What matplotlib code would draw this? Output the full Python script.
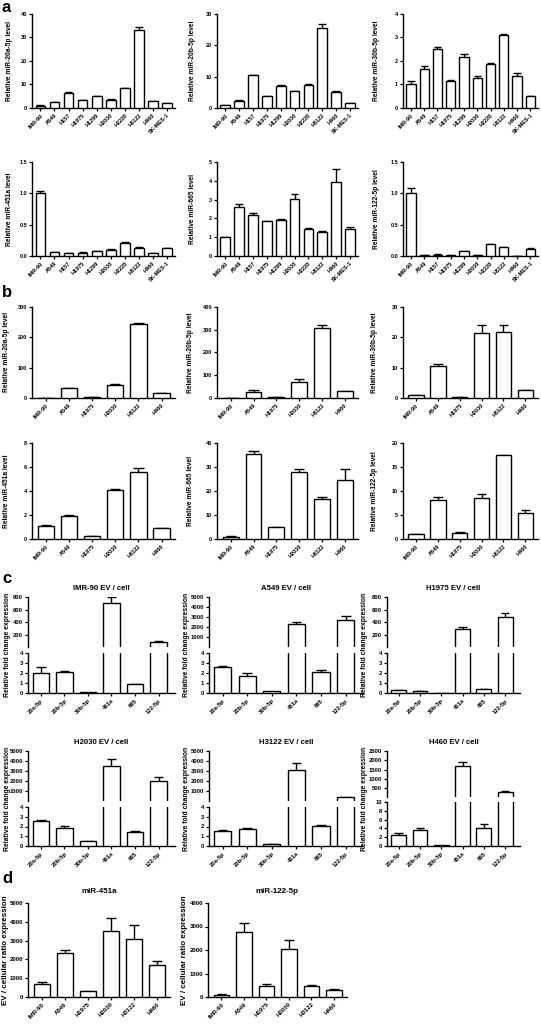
import matplotlib
matplotlib.use('Agg')
import matplotlib.pyplot as plt
import numpy as np

plt.rcParams['font.family'] = ['Liberation Sans', 'DejaVu Sans']
plt.rcParams['font.weight'] = 'bold'

# ---------------- data ----------------
cells_a = ['IMR-90', 'A549', 'H157', 'H1975', 'H1299', 'H2030', 'H2228', 'H3122', 'H460', 'SK-MES-1']
a_mir20a = [1.0, 2.4, 6.5, 3.25, 4.95, 3.5, 8.5, 33.0, 3.0, 2.1]
a_mir20a_err = [0.15, 0.15, 0.15, 0.15, 0.15, 0.15, 0.15, 1.3, 0.15, 0.1]
a_mir20b = [1.0, 2.3, 10.4, 3.7, 7.0, 5.3, 7.4, 25.5, 5.2, 1.5]
a_mir20b_err = [0.1, 0.15, 0.2, 0.15, 0.2, 0.15, 0.2, 1.3, 0.15, 0.1]
a_mir30b = [1.0, 1.66, 2.51, 1.14, 2.16, 1.26, 1.86, 3.11, 1.36, 0.5]
a_mir30b_err = [0.13, 0.12, 0.07, 0.07, 0.12, 0.1, 0.07, 0.05, 0.15, 0.02]
a_mir451a = [1.0, 0.065, 0.05, 0.055, 0.08, 0.1, 0.21, 0.135, 0.05, 0.12]
a_mir451a_err = [0.03, 0.004, 0.004, 0.004, 0.005, 0.008, 0.01, 0.015, 0.003, 0.006]
a_mir665 = [1.0, 2.6, 2.2, 1.85, 1.9, 3.05, 1.46, 1.29, 3.95, 1.46]
a_mir665_err = [0.02, 0.17, 0.1, 0.03, 0.05, 0.25, 0.05, 0.04, 0.7, 0.06]
a_mir122 = [1.0, 0.012, 0.02, 0.01, 0.078, 0.012, 0.185, 0.14, 0.005, 0.115]
a_mir122_err = [0.08, 0.003, 0.004, 0.002, 0.004, 0.003, 0.008, 0.005, 0.002, 0.008]

cells_b = ['IMR-90', 'A549', 'H1975', 'H2030', 'H3122', 'H460']
b_mir20a = [1.0, 33.0, 3.5, 44.0, 243.0, 15.5]
b_mir20a_err = [0.1, 1.0, 0.3, 1.5, 3.0, 1.0]
b_mir20b = [1.0, 27.0, 3.0, 70.0, 309.0, 30.0]
b_mir20b_err = [0.1, 7.0, 0.5, 14.0, 12.0, 1.5]
b_mir30b = [1.0, 10.4, 0.3, 21.5, 21.9, 2.6]
b_mir30b_err = [0.05, 0.7, 0.05, 2.5, 2.3, 0.1]
b_mir451a = [1.05, 1.94, 0.27, 4.12, 5.6, 0.88]
b_mir451a_err = [0.12, 0.1, 0.02, 0.03, 0.32, 0.03]
b_mir665 = [1.0, 35.3, 4.9, 27.9, 16.7, 24.7]
b_mir665_err = [0.1, 1.2, 0.3, 1.3, 0.8, 4.5]
b_mir122 = [1.0, 8.1, 1.35, 8.6, 17.4, 5.5]
b_mir122_err = [0.05, 0.6, 0.1, 0.7, 0.2, 0.6]

mirs_c = ['20a-5p', '20b-5p', '30b-5p', '451a', '665', '122-5p']
c_imr90 = [2.0, 2.1, 0.08, 700, 0.92, 85]
c_imr90_err = [0.65, 0.12, 0.0, 95, 0.03, 25]
c_a549 = [2.62, 1.75, 0.17, 2350, 2.1, 2760]
c_a549_err = [0.1, 0.27, 0.0, 170, 0.22, 380]
c_h1975 = [0.27, 0.23, 0.01, 300, 0.42, 480]
c_h1975_err = [0.02, 0.02, 0.0, 20, 0.02, 70]
c_h2030 = [2.58, 1.83, 0.47, 3500, 1.47, 2060]
c_h2030_err = [0.05, 0.2, 0.01, 690, 0.06, 360]
c_h3122 = [1.53, 1.7, 0.2, 3090, 2.03, 480]
c_h3122_err = [0.06, 0.15, 0.02, 730, 0.15, 15]
c_h460 = [2.6, 3.7, 0.15, 1720, 4.1, 300]
c_h460_err = [0.3, 0.35, 0.0, 180, 0.8, 60]

d_mir451a = [700, 2350, 300, 3500, 3090, 1720]
d_mir451a_err = [95, 170, 20, 690, 730, 180]
d_mir122 = [85, 2760, 480, 2060, 480, 300]
d_mir122_err = [25, 380, 70, 360, 15, 60]

# ---------------- helpers ----------------
W, H = 541, 1026
fig = plt.figure(figsize=(W / 100, H / 100), dpi=100)


def add_ax(x0, x1, yt, yb):
    return fig.add_axes([x0 / W, 1 - yb / H, (x1 - x0) / W, (yb - yt) / H])


def style(ax, ls=4.0, bottom=True):
    ax.spines['top'].set_visible(False)
    ax.spines['right'].set_visible(False)
    ax.spines['left'].set_linewidth(1.0)
    ax.spines['bottom'].set_linewidth(1.0)
    if not bottom:
        ax.spines['bottom'].set_visible(False)
        ax.tick_params(axis='x', bottom=False, labelbottom=False)
    ax.tick_params(axis='both', direction='out', length=2.5, width=0.9,
                   labelsize=ls, pad=1)


def bars(ax, vals, errs, width=0.7, cap=0.22):
    x = np.arange(len(vals))
    ax.bar(x, vals, width=width, color='white', edgecolor='black',
           linewidth=1.0, zorder=3)
    for xi, v, e in zip(x, vals, errs):
        if e <= 0 or not np.isfinite(v):
            continue
        ax.plot([xi, xi], [v, v + e], color='black', lw=1.0, zorder=2,
                solid_capstyle='butt')
        ax.plot([xi - cap, xi + cap], [v + e, v + e], color='black', lw=1.0,
                zorder=2, solid_capstyle='butt')


def xlabels(ax, labels, size=4.0):
    ax.set_xticks(np.arange(len(labels)))
    ax.set_xticklabels(labels, rotation=45, ha='right',
                       rotation_mode='anchor', fontsize=size)


def ylab(xpx, yt, yb, text, size=4.8):
    fig.text(xpx / W, 1 - (yt + yb) / 2 / H, text, rotation=90,
             ha='center', va='center', fontsize=size, fontweight='bold')


def simple(x0, x1, yt, yb, cats, vals, errs, ymax, ticks, ylabel, lx,
           fmt=None, ls=4.0, ylsize=4.8, cap=0.22):
    ax = add_ax(x0, x1, yt, yb)
    bars(ax, vals, errs, cap=cap)
    n = len(cats)
    ax.set_xlim(-0.6, n - 0.42)
    ax.set_ylim(0, ymax)
    ax.set_yticks(ticks)
    if fmt:
        ax.set_yticklabels([fmt.format(t) for t in ticks])
    style(ax, ls=ls)
    xlabels(ax, cats, size=ls)
    ylab(lx, yt, yb, ylabel, size=ylsize)
    return ax


# ---------------- panel a ----------------
cols_ab = [(32, 175), (217, 358), (403, 538)]
lx_ab = [10, 193, 377]
r1 = (14, 108)
r2 = (162, 256)
simple(*cols_ab[0], *r1, cells_a, a_mir20a, a_mir20a_err, 40, [0, 10, 20, 30, 40],
       'Relative miR-20a-5p level', lx_ab[0], cap=0.28)
simple(*cols_ab[1], *r1, cells_a, a_mir20b, a_mir20b_err, 30, [0, 10, 20, 30],
       'Relative miR-20b-5p level', lx_ab[1], cap=0.28)
simple(*cols_ab[2], *r1, cells_a, a_mir30b, a_mir30b_err, 4, [0, 1, 2, 3, 4],
       'Relative miR-30b-5p level', lx_ab[2], cap=0.28)
simple(*cols_ab[0], *r2, cells_a, a_mir451a, a_mir451a_err, 1.5, [0, 0.5, 1.0, 1.5],
       'Relative miR-451a level', lx_ab[0], fmt='{:.1f}', cap=0.28)
simple(*cols_ab[1], *r2, cells_a, a_mir665, a_mir665_err, 5, [0, 1, 2, 3, 4, 5],
       'Relative miR-665 level', lx_ab[1], cap=0.28)
simple(*cols_ab[2], *r2, cells_a, a_mir122, a_mir122_err, 1.5, [0, 0.5, 1.0, 1.5],
       'Relative miR-122-5p level', lx_ab[2], fmt='{:.1f}', cap=0.28)

# ---------------- panel b ----------------
r3 = (307, 398)
r4 = (443, 539)
simple(*cols_ab[0], *r3, cells_b, b_mir20a, b_mir20a_err, 300, [0, 100, 200, 300],
       'Relative miR-20a-5p level', lx_ab[0] - 3)
simple(*cols_ab[1], *r3, cells_b, b_mir20b, b_mir20b_err, 400, [0, 100, 200, 300, 400],
       'Relative miR-20b-5p level', lx_ab[1] - 3)
simple(*cols_ab[2], *r3, cells_b, b_mir30b, b_mir30b_err, 30, [0, 10, 20, 30],
       'Relative miR-30b-5p level', lx_ab[2] - 3)
simple(*cols_ab[0], *r4, cells_b, b_mir451a, b_mir451a_err, 8, [0, 2, 4, 6, 8],
       'Relative miR-451a level', lx_ab[0] - 3)
simple(*cols_ab[1], *r4, cells_b, b_mir665, b_mir665_err, 40, [0, 10, 20, 30, 40],
       'Relative miR-665 level', lx_ab[1] - 3)
simple(*cols_ab[2], *r4, cells_b, b_mir122, b_mir122_err, 20, [0, 5, 10, 15, 20],
       'Relative miR-122-5p level', lx_ab[2] - 3)

# ---------------- panel c (broken axes) ----------------
cols_c = [(28, 175), (209, 363), (387, 520)]
lx_c = [8, 186, 365]


def broken(x0, x1, yt, ytb, ybt, yb, vals, errs, low_max, low_ticks,
           high_max, high_ticks, title, lx):
    axt = add_ax(x0, x1, yt, ytb)
    axb = add_ax(x0, x1, ybt, yb)
    top_vals = [v if v > low_max else np.nan for v in vals]
    top_errs = [e if v > low_max else 0 for v, e in zip(vals, errs)]
    bars(axt, top_vals, top_errs, cap=0.2)
    bars(axb, vals, errs, cap=0.2)
    for ax in (axt, axb):
        ax.set_xlim(-0.55, 5.7)
    axt.set_ylim(high_max * 0.012, high_max)
    axt.set_yticks(high_ticks)
    axb.set_ylim(0, low_max)
    axb.set_yticks(low_ticks)
    style(axt, ls=4.2, bottom=False)
    style(axb, ls=4.2)
    xlabels(axb, mirs_c, size=4.2)
    axt.set_title(title, fontsize=5.6, fontweight='bold', pad=5)
    ylab(lx, yt, yb, 'Relative fold change expression', size=4.9)


rc1 = (597, 647, 653, 693)
rc2 = (751, 801, 807, 846)
broken(*cols_c[0], *rc1, c_imr90, c_imr90_err, 4, [0, 1, 2, 3, 4],
       800, [200, 400, 600, 800], 'IMR-90 EV / cell', lx_c[0])
broken(*cols_c[1], *rc1, c_a549, c_a549_err, 4, [0, 1, 2, 3, 4],
       5000, [1000, 2000, 3000, 4000, 5000], 'A549 EV / cell', lx_c[1])
broken(*cols_c[2], *rc1, c_h1975, c_h1975_err, 4, [0, 1, 2, 3, 4],
       800, [200, 400, 600, 800], 'H1975 EV / cell', lx_c[2])
broken(*cols_c[0], *rc2, c_h2030, c_h2030_err, 4, [0, 1, 2, 3, 4],
       5000, [1000, 2000, 3000, 4000, 5000], 'H2030 EV / cell', lx_c[0])
broken(*cols_c[1], *rc2, c_h3122, c_h3122_err, 4, [0, 1, 2, 3, 4],
       5000, [1000, 2000, 3000, 4000, 5000], 'H3122 EV / cell', lx_c[1])
broken(*cols_c[2], 751, 797, 802, 846, c_h460, c_h460_err, 10, [0, 2, 4, 6, 8, 10],
       2500, [500, 1000, 1500, 2000, 2500], 'H460 EV / cell', lx_c[2])

# ---------------- panel d ----------------
rd = (903, 997)
axd1 = simple(28, 170, *rd, cells_b, d_mir451a, d_mir451a_err, 5000,
              [0, 1000, 2000, 3000, 4000, 5000], 'EV / cellular ratio expression',
              6, ls=4.4, ylsize=5.8, cap=0.22)
axd1.set_title('miR-451a', fontsize=5.8, fontweight='bold', pad=7)
axd2 = simple(208, 347, *rd, cells_b, d_mir122, d_mir122_err, 4000,
              [0, 1000, 2000, 3000, 4000], 'EV / cellular ratio expression',
              184, ls=4.4, ylsize=5.8, cap=0.22)
axd2.set_title('miR-122-5p', fontsize=5.8, fontweight='bold', pad=7)

# ---------------- panel letters ----------------
for letter, ypx in [('a', 0), ('b', 285), ('c', 571), ('d', 871)]:
    fig.text(2 / W, 1 - ypx / H, letter, fontsize=12, fontweight='bold',
             ha='left', va='top')

fig.savefig('out.png', dpi=100)
